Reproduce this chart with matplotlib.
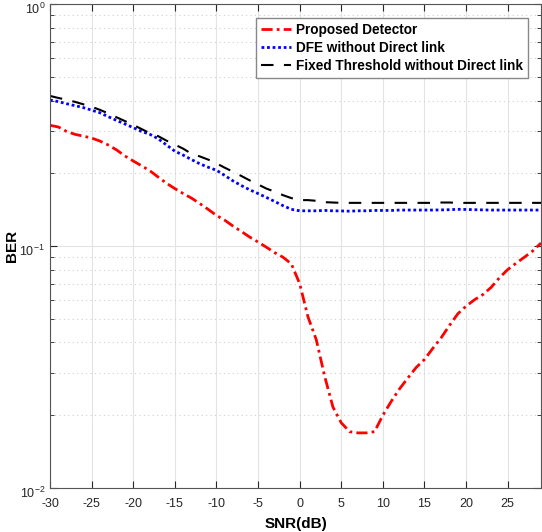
import numpy as np
import matplotlib
matplotlib.use('Agg')
import matplotlib.pyplot as plt
import matplotlib.transforms as mtransforms

plt.rcParams['font.family'] = ['Liberation Sans', 'DejaVu Sans']
plt.rcParams['axes.unicode_minus'] = False

# SNR-Achse (dB)
snr = list(range(-30, 30))

proposed = [0.316, 0.311, 0.298, 0.290, 0.285, 0.280, 0.272, 0.262, 0.250, 0.236,
            0.225, 0.215, 0.205, 0.193, 0.182, 0.173, 0.165, 0.158, 0.150, 0.142,
            0.134, 0.128, 0.121, 0.115, 0.109, 0.104, 0.099, 0.094, 0.090, 0.0845,
            0.070, 0.051, 0.041, 0.029, 0.0216, 0.0186, 0.0171, 0.0169, 0.0169, 0.0171,
            0.020, 0.0228, 0.0257, 0.0285, 0.0315, 0.0340, 0.0378, 0.0418, 0.0470, 0.0525,
            0.0565, 0.0600, 0.0630, 0.0675, 0.0740, 0.0800, 0.0850, 0.0900, 0.0955, 0.103]

dfe = [0.402, 0.396, 0.388, 0.381, 0.374, 0.365, 0.356, 0.343, 0.331, 0.320,
       0.309, 0.298, 0.290, 0.278, 0.262, 0.247, 0.238, 0.228, 0.219, 0.212,
       0.206, 0.196, 0.186, 0.178, 0.171, 0.165, 0.159, 0.153, 0.147, 0.142,
       0.140, 0.140, 0.140, 0.1405, 0.140, 0.1398, 0.1395, 0.140, 0.140, 0.1405,
       0.1405, 0.1405, 0.141, 0.141, 0.141, 0.141, 0.141, 0.1412, 0.1415, 0.142,
       0.1418, 0.1415, 0.1412, 0.141, 0.141, 0.141, 0.141, 0.141, 0.141, 0.141]

fixed = [0.418, 0.410, 0.403, 0.395, 0.386, 0.377, 0.366, 0.354, 0.341, 0.329,
         0.317, 0.305, 0.293, 0.285, 0.273, 0.263, 0.253, 0.241, 0.235, 0.228,
         0.220, 0.211, 0.203, 0.195, 0.187, 0.180, 0.173, 0.168, 0.1625, 0.158,
         0.155, 0.155, 0.154, 0.152, 0.1515, 0.151, 0.151, 0.151, 0.151, 0.151,
         0.151, 0.151, 0.151, 0.151, 0.151, 0.151, 0.151, 0.1515, 0.1515, 0.151,
         0.151, 0.151, 0.151, 0.151, 0.151, 0.151, 0.151, 0.151, 0.151, 0.151]

fig = plt.figure(figsize=(5.42, 5.32), dpi=100)
ax = fig.add_axes([50 / 542, 44 / 532, 491 / 542, 483.7 / 532])

ax.semilogy(snr, proposed, color='red', lw=2.0, linestyle=(0, (4, 1.5, 1, 1.5)),
            label='Proposed Detector')
ax.semilogy(snr, dfe, color='blue', lw=2.0, linestyle=(0, (1, 1)),
            label='DFE without Direct link')
ax.semilogy(snr, fixed, color='black', lw=1.5, linestyle=(0, (6, 5)),
            label='Fixed Threshold without Direct link')

ax.set_xlim(-30, 29)
ax.set_ylim(1e-2, 1e0)
ax.set_xticks(np.arange(-30, 30, 5))

ax.grid(True, which='major', color='#e3e3e3', lw=0.8, linestyle='-')
ax.grid(True, which='minor', axis='y', color='#d0d0d0', lw=0.8, linestyle=(0, (1, 3)))
ax.set_axisbelow(True)

ax.tick_params(which='both', direction='in', top=True, right=True,
               labelsize=9, colors='#262626')
ax.tick_params(which='major', length=5)
ax.tick_params(which='minor', length=3)
ax.tick_params(axis='x', pad=7)
for sp in ax.spines.values():
    sp.set_color('#555555')
    sp.set_linewidth(0.8)

# y-Labels etwas nach unten schieben (wie im Original)
shift = mtransforms.ScaledTranslation(0, -4 / 100, fig.dpi_scale_trans)
for lbl in ax.get_yticklabels():
    lbl.set_transform(lbl.get_transform() + shift)

ax.set_xlabel('SNR(dB)', fontsize=11, fontweight='bold', labelpad=5)
ax.set_ylabel('BER', fontsize=11, fontweight='bold', labelpad=0)

leg = ax.legend(loc='upper right', bbox_to_anchor=(0.9735, 0.971), borderaxespad=0,
                fancybox=False, framealpha=1, edgecolor='#888888',
                prop={'weight': 'bold', 'size': 9.8}, handlelength=2.2,
                handletextpad=0.4, labelspacing=0.3, borderpad=0.35)
leg.get_frame().set_linewidth(1.0)

plt.savefig('out.png', dpi=100)
